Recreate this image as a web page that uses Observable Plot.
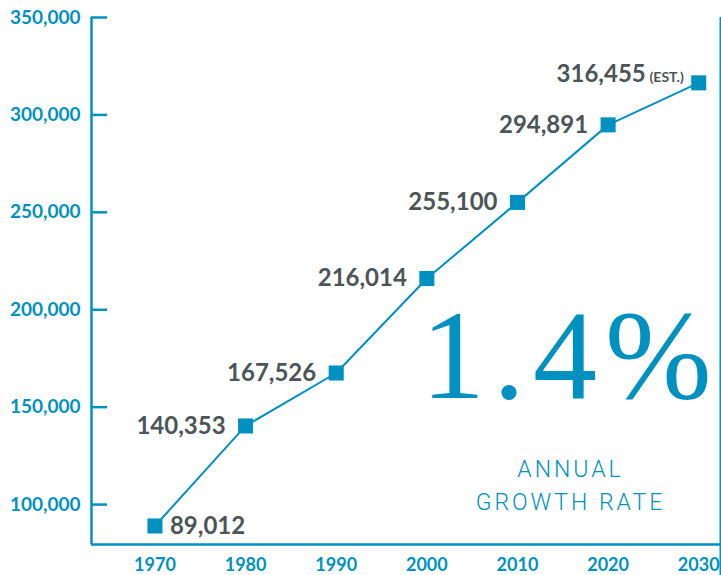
<!DOCTYPE html>
<html><head><meta charset="utf-8">
<script src="https://cdn.jsdelivr.net/npm/d3@7"></script>
<script src="https://cdn.jsdelivr.net/npm/@observablehq/plot@0.6"></script>
<style>body{margin:0;background:#fff;} #chart svg{display:block;}</style>
</head><body><div id="chart"></div>
<script>
const years = [1970, 1980, 1990, 2000, 2010, 2020, 2030];
const population = [89012, 140353, 167526, 216014, 255100, 294891, 316455];
const yTicks = [100000, 150000, 200000, 250000, 300000, 350000];
const estNote = "(EST.)";
const rateText = "1.4%";
const rateCaption = "ANNUAL\nGROWTH RATE";

const blue = "#0091c1";
const gray = "#4b5558";
const fmt = d3.format(",");
const data = years.map((year, i) => ({year, value: population[i], i}));
const xDomain = [1963, 2032.4];
const yDomain = [79500, 350000];
const W = 721, H = 575, mL = 91, mR = 1, mT = 17, mB = 31;
const plotW = W - mL - mR, plotH = H - mT - mB;

const chart = Plot.plot({
  width: W, height: H,
  marginLeft: mL, marginRight: mR, marginTop: mT, marginBottom: mB,
  style: {fontFamily: "Lato, 'Open Sans', sans-serif", background: "#fff"},
  x: {domain: xDomain},
  y: {domain: yDomain},
  marks: [
    Plot.ruleX([xDomain[0]], {y1: yDomain[0], y2: yDomain[1], stroke: blue, strokeWidth: 2.5}),
    Plot.ruleY([yDomain[0]], {x1: xDomain[0], x2: xDomain[1], stroke: blue, strokeWidth: 2.5}),
    Plot.ruleY(yTicks, {x1: xDomain[0], x2: xDomain[1], insetRight: plotW - 16, stroke: blue, strokeWidth: 2.5}),
    Plot.ruleX([xDomain[1]], {y1: yDomain[0], y2: yDomain[1], insetTop: plotH - 20, stroke: blue, strokeWidth: 2}),
    Plot.axisY({ticks: yTicks, tickSize: 0, tickPadding: 11, tickFormat: fmt, label: null,
      fill: blue, fontSize: 19, fontWeight: "bold"}),
    Plot.axisX({ticks: years, tickSize: 0, tickPadding: 14, tickFormat: d => String(d), label: null,
      fill: blue, fontSize: 18, fontWeight: "bold"}),
    Plot.text([rateText], {frameAnchor: "bottom-right", textAnchor: "end", lineAnchor: "bottom",
      dx: -1, dy: -147, fill: blue, fontSize: 128, fontFamily: "'Liberation Serif', 'DejaVu Serif', serif"}),
    Plot.text([rateCaption], {frameAnchor: "bottom-right", textAnchor: "middle", lineAnchor: "bottom",
      dx: -150, dy: -35, lineHeight: 1.4, fill: blue, fontSize: 23, fontWeight: 300,
      fontFamily: "Roboto, 'Open Sans', sans-serif"}),
    Plot.line(data, {x: "year", y: "value", stroke: blue, strokeWidth: 2}),
    Plot.dot(data, {x: "year", y: "value", symbol: "square", r: 8.5, fill: blue}),
    Plot.text(data.filter(d => d.i === 0), {x: "year", y: "value", text: d => fmt(d.value),
      textAnchor: "start", dx: 15, fill: gray, fontSize: 24, fontWeight: "bold"}),
    Plot.text(data.filter(d => d.i > 0 && d.i < years.length - 1), {x: "year", y: "value", text: d => fmt(d.value),
      textAnchor: "end", dx: -20, fill: gray, fontSize: 24, fontWeight: "bold"}),
    Plot.text(data.filter(d => d.i === years.length - 1), {x: "year", y: "value", text: d => fmt(d.value),
      textAnchor: "end", lineAnchor: "bottom", dx: -53, dy: -1, fill: gray, fontSize: 24, fontWeight: "bold"}),
    Plot.text(data.filter(d => d.i === years.length - 1), {x: "year", y: "value", text: () => estNote,
      textAnchor: "end", lineAnchor: "bottom", dx: -15, dy: -1, fill: gray, fontSize: 14, fontWeight: "bold"})
  ]
});
chart.querySelectorAll("text").forEach(t => {
  if (t.textContent === rateText) t.setAttribute("letter-spacing", "8");
  if (t.textContent.replace(/\s/g, "") === rateCaption.replace(/\s/g, "")) t.setAttribute("letter-spacing", "3");
});
document.getElementById("chart").append(chart);
</script>
</body></html>
